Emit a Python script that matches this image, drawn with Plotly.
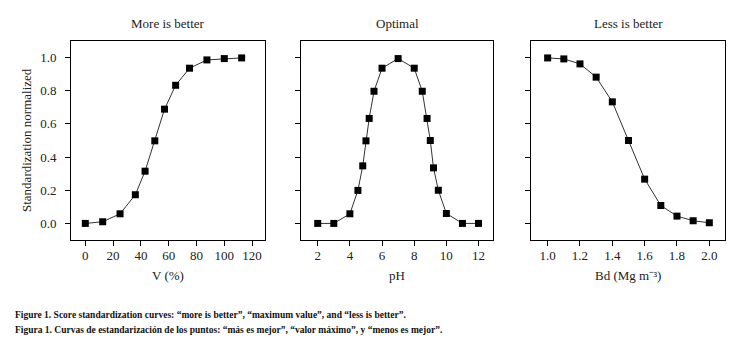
import plotly.graph_objects as go

W, H = 749, 346

# Data
v_x = [0, 12.5, 25, 36, 43, 50, 57, 65, 75, 87.5, 100, 112.5]
v_y = [0.0, 0.01, 0.058, 0.173, 0.315, 0.498, 0.689, 0.833, 0.936, 0.986, 0.994, 0.998]

ph_x = [2, 3, 4, 4.5, 4.8, 5, 5.2, 5.5, 6, 7, 8, 8.5, 8.8, 9, 9.2, 9.5, 10, 11, 12]
ph_y = [0.0, 0.0, 0.058, 0.199, 0.347, 0.498, 0.633, 0.797, 0.936, 0.994,
        0.936, 0.797, 0.633, 0.5, 0.335, 0.2, 0.06, 0.0, 0.0]

bd_x = [1.0, 1.1, 1.2, 1.3, 1.4, 1.5, 1.6, 1.7, 1.8, 1.9, 2.0]
bd_y = [0.998, 0.992, 0.962, 0.882, 0.733, 0.5, 0.267, 0.108, 0.044, 0.016, 0.004]

panel_titles = ["More is better", "Optimal", "Less is better"]
x_titles = ["V (%)", "pH", "Bd (Mg m⁻³)"]
y_title = "Standardization normalized"
y_ticks = [0.0, 0.2, 0.4, 0.6, 0.8, 1.0]
y_ticklabels = ["0.0", "0.2", "0.4", "0.6", "0.8", "1.0"]
x_ticks = [[0, 20, 40, 60, 80, 100, 120], [2, 4, 6, 8, 10, 12],
           [1.0, 1.2, 1.4, 1.6, 1.8, 2.0]]
x_ticklabels = [["0", "20", "40", "60", "80", "100", "120"],
                ["2", "4", "6", "8", "10", "12"],
                ["1.0", "1.2", "1.4", "1.6", "1.8", "2.0"]]
caption_en = "Figure 1. Score standardization curves: “more is better”, “maximum value”, and “less is better”."
caption_es = "Figura 1. Curvas de estandarización de los puntos: “más es mejor”, “valor máximo”, y “menos es mejor”."

FONT = "Liberation Serif"
TXT = "#222222"

# Layout geometry (pixels)
panels_px = [(71, 265), (301, 493), (531, 725)]
top_px, bot_px = 41, 240
x_ranges = [[-10.3, 129.3], [0.96, 12.9], [0.897, 2.097]]
y_range = [-0.1, 1.1]

fig = go.Figure()
series = [(v_x, v_y), (ph_x, ph_y), (bd_x, bd_y)]
for i, (xs, ys) in enumerate(series):
    ax = "" if i == 0 else str(i + 1)
    fig.add_trace(go.Scatter(
        x=xs, y=ys, mode="lines+markers",
        line=dict(color="#333333", width=1),
        marker=dict(symbol="square", size=7, color="black"),
        xaxis="x" + ax, yaxis="y" + ax, showlegend=False,
        hoverinfo="skip"))

layout = dict(
    width=W, height=H,
    margin=dict(l=0, r=0, t=0, b=0),
    paper_bgcolor="white", plot_bgcolor="white",
    font=dict(family=FONT, size=12, color=TXT),
    annotations=[],
)
ydom = [1 - bot_px / H, 1 - top_px / H]
for i, (l, r) in enumerate(panels_px):
    sfx = "" if i == 0 else str(i + 1)
    layout["xaxis" + sfx] = dict(
        domain=[l / W, r / W], range=x_ranges[i],
        anchor="y" + sfx,
        tickvals=x_ticks[i], ticktext=x_ticklabels[i],
        ticks="outside", ticklen=5, tickcolor="black", tickwidth=1,
        showline=True, linecolor="black", linewidth=1, mirror=True,
        showgrid=False, zeroline=False,
        ticklabelstandoff=-2,
        tickfont=dict(family=FONT, size=13, color=TXT),
    )
    layout["yaxis" + sfx] = dict(
        domain=ydom, range=y_range,
        anchor="x" + sfx,
        tickvals=y_ticks, ticktext=y_ticklabels,
        ticks="outside", ticklen=5, tickcolor="black", tickwidth=1,
        showline=True, linecolor="black", linewidth=1, mirror=True,
        showgrid=False, zeroline=False,
        showticklabels=(i == 0),
        ticklabelstandoff=6,
        tickfont=dict(family=FONT, size=13, color=TXT),
    )
    cx = (l + r) / 2 / W
    layout["annotations"].append(dict(
        text=panel_titles[i], xref="paper", yref="paper",
        x=cx, y=1 - 24 / H, xanchor="center", yanchor="middle",
        showarrow=False, font=dict(family=FONT, size=13, color=TXT)))
    layout["annotations"].append(dict(
        text=x_titles[i], xref="paper", yref="paper",
        x=cx, y=1 - 275 / H, xanchor="center", yanchor="middle",
        showarrow=False, font=dict(family=FONT, size=13, color=TXT)))

layout["annotations"].append(dict(
    text=y_title, xref="paper", yref="paper",
    x=26 / W, y=1 - 140 / H, xanchor="center", yanchor="middle",
    textangle=-90, showarrow=False,
    font=dict(family=FONT, size=13, color=TXT)))

for txt, yp in [(caption_en, 315), (caption_es, 330)]:
    layout["annotations"].append(dict(
        text="<b>" + txt + "</b>", xref="paper", yref="paper",
        x=13 / W, y=1 - yp / H, xanchor="left", yanchor="middle",
        showarrow=False, font=dict(family=FONT, size=9.5, color="#111111")))

fig.update_layout(**layout)
fig.write_html("out.html", config={"displayModeBar": False},
               post_script="document.body.style.margin='0px';")
